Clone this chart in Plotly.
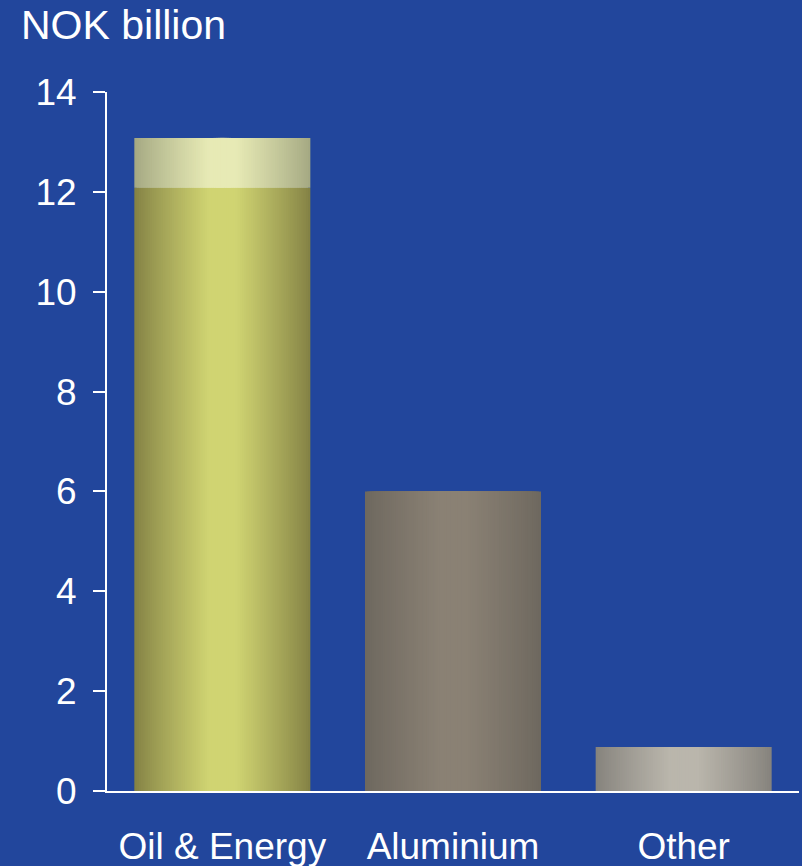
import plotly.graph_objects as go

categories = ["Oil & Energy", "Aluminium", "Other"]
main_values = [12.08, 6.0, 0.88]
top_values = [1.0, 0.0, 0.0]
y_ticks = [0, 2, 4, 6, 8, 10, 12, 14]

BG = "#22469C"
# (edge colour, centre colour) for the cylindrical shading of each bar
main_shades = [("#848245", "#D0D472"), ("#6E685F", "#8A8174"), ("#86837D", "#BAB6AC")]
top_shade = ("#A5A983", "#E7EAB5")

BAR_W = 0.763
N = 40


def hex2rgb(h):
    h = h.lstrip("#")
    return tuple(int(h[i:i + 2], 16) for i in (0, 2, 4))


def lerp(c1, c2, t):
    a, b = hex2rgb(c1), hex2rgb(c2)
    return "rgb(%d,%d,%d)" % tuple(round(a[i] + (b[i] - a[i]) * t) for i in range(3))


fig = go.Figure()
for k in range(N):
    frac = k / N
    w = BAR_W * (1 - frac)
    t = min(1.0, frac * 1.2) ** 0.9
    for i, cat in enumerate(categories):
        fig.add_trace(go.Bar(
            x=[cat], y=[main_values[i]], width=[w],
            marker=dict(color=lerp(main_shades[i][0], main_shades[i][1], t), line=dict(width=0)),
            showlegend=False, hoverinfo="skip",
        ))
        if top_values[i] > 0:
            fig.add_trace(go.Bar(
                x=[cat], y=[top_values[i]], base=[main_values[i]], width=[w],
                marker=dict(color=lerp(top_shade[0], top_shade[1], t), line=dict(width=0)),
                showlegend=False, hoverinfo="skip",
            ))

fig.update_layout(
    width=802, height=866,
    paper_bgcolor=BG, plot_bgcolor=BG,
    barmode="overlay",
    margin=dict(l=107, r=3, t=92, b=75),
    font=dict(family="Liberation Sans, Arial, sans-serif", color="white"),
    xaxis=dict(
        categoryorder="array", categoryarray=categories,
        range=[-0.5, 2.5], automargin=False,
        showline=True, linecolor="white", linewidth=2,
        ticks="", showgrid=False, zeroline=False,
        tickfont=dict(size=37, color="white"),
        ticklabelstandoff=22,
    ),
    yaxis=dict(
        range=[0, 14], tickvals=y_ticks, automargin=False,
        showline=True, linecolor="white", linewidth=2,
        ticks="outside", ticklen=12, tickwidth=2, tickcolor="white",
        showgrid=False, zeroline=False,
        tickfont=dict(size=37, color="white"),
        ticklabelstandoff=9,
    ),
    annotations=[dict(
        text="NOK billion", xref="paper", yref="paper",
        x=(19 - 107) / 692, y=1 + 92 / 699, xanchor="left", yanchor="top",
        showarrow=False, font=dict(size=41, color="white"),
    )],
)

fig.write_html(
    "out.html",
    config={"displayModeBar": False},
    post_script="document.body.style.margin='0';document.body.style.overflow='hidden';",
)
